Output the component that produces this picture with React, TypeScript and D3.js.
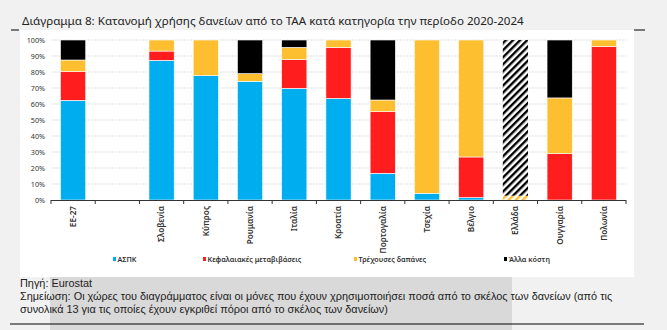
import { useMemo } from 'react';
import * as d3 from 'd3';

const categories = ['ΕΕ-27', ' ', 'Σλοβενία', 'Κύπρος', 'Ρουμανία', 'Ιταλία', 'Κροατία', 'Πορτογαλία', 'Τσεχία', 'Βέλγιο', 'Ελλάδα', 'Ουγγαρία', 'Πολωνία'];
const seriesNames = ['ΑΣΠΚ', 'Κεφαλαιακές μεταβιβάσεις', 'Τρέχουσες δαπάνες', 'Άλλα κόστη'];
const aspk = [62.3, 0, 87.3, 77.7, 74.2, 69.8, 63.5, 16.7, 4.2, 1.5, 0, 0, 0];
const capital = [17.9, 0, 5.8, 0, 0, 18.1, 31.9, 38.5, 0, 25.4, 0, 29, 96];
const current = [7.3, 0, 6.9, 22.3, 4.8, 7.5, 4.6, 7.3, 95.8, 73.1, 2.7, 34.8, 4];
const other = [12.5, 0, 0, 0, 21, 4.6, 0, 37.5, 0, 0, 97.3, 36.2, 0];
const hatched = ['Ελλάδα'];
const yTicks = [0, 10, 20, 30, 40, 50, 60, 70, 80, 90, 100];

const colors = ['#00aeef', '#ff1d1d', '#fdbe30', '#000000'];
const font = '"Noto Sans", "Open Sans", sans-serif';
const noteFont = '"Liberation Sans", Arial, sans-serif';

export default function App() {
  const W = 667;
  const H = 330;
  const x = d3.scaleBand<string>().domain(categories).range([51, 626]).paddingInner(0.43).paddingOuter(0.215);
  const y = d3.scaleLinear().domain([0, 100]).range([200, 40]);

  const rows = useMemo(
    () => categories.map((c, i) => ({ cat: c, s0: aspk[i], s1: capital[i], s2: current[i], s3: other[i] })),
    []
  );
  const stacked = d3.stack<any>().keys(['s0', 's1', 's2', 's3'])(rows);
  const step = x.step();
  const legendX = [113, 203, 354, 504];

  return (
    <div style={{ position: 'fixed', left: 0, top: 0 }}>
      <svg width={W} height={H} style={{ display: 'block', fontFamily: font }}>
        <defs>
          <pattern id="hatchK" width="5" height="5" patternUnits="userSpaceOnUse" patternTransform="rotate(45)">
            <rect width="5" height="5" fill="#fff" />
            <rect width="2.4" height="5" fill="#000" />
          </pattern>
          <pattern id="hatchY" width="5" height="5" patternUnits="userSpaceOnUse" patternTransform="rotate(45)">
            <rect width="5" height="5" fill="#fff" />
            <rect width="2.4" height="5" fill="#fdbe30" />
          </pattern>
        </defs>
        <rect width={W} height={H} fill="#f1f1f1" />
        <rect x={20} y={30} width={614} height={247} fill="#fff" />
        <rect x={50} y={277} width={462} height={53} fill="#d9d9d9" />

        <text x={22} y={25} fontSize={11.6} fill="#222">
          Διάγραμμα 8: Κατανομή χρήσης δανείων από το ΤΑΑ κατά κατηγορία την περίοδο 2020-2024
        </text>
        <line x1={11} x2={19} y1={30} y2={30} stroke="#000" strokeWidth={1} />
        <line x1={634} x2={645} y1={30} y2={30} stroke="#000" strokeWidth={1} />

        {yTicks.map(t => (
          <g key={t}>
            {t > 0 && (
              <line x1={52} x2={626} y1={y(t)} y2={y(t)} stroke="#d4d4d4" strokeWidth={0.8} strokeDasharray="2,1" />
            )}
            <text x={45} y={y(t)} dy="0.35em" textAnchor="end" fontSize={7.2} fill="#333">
              {t}%
            </text>
          </g>
        ))}

        {stacked.map((layer, k) =>
          layer.map((d, i) => {
            const cat = categories[i];
            const h = y(d[0]) - y(d[1]);
            if (h <= 0) return null;
            const isHatch = hatched.includes(cat);
            const fill = isHatch ? (k === 3 ? 'url(#hatchK)' : 'url(#hatchY)') : colors[k];
            return (
              <rect
                key={`${k}-${i}`}
                x={x(cat)}
                y={y(d[1])}
                width={x.bandwidth()}
                height={h}
                fill={fill}
                stroke={isHatch ? 'none' : '#fff'}
                strokeWidth={0.6}
              />
            );
          })
        )}

        <line x1={51} x2={626} y1={y(0) + 0.5} y2={y(0) + 0.5} stroke="#333" strokeWidth={1.2} />
        {categories.map((c, i) => {
          const bx = (x(c) as number) - (step - x.bandwidth()) / 2;
          return <line key={`t${i}`} x1={bx} x2={bx} y1={y(0)} y2={y(0) + 4} stroke="#333" strokeWidth={1} />;
        })}
        <line x1={626} x2={626} y1={y(0)} y2={y(0) + 4} stroke="#333" strokeWidth={1} />

        {categories.map((c, i) => {
          const cx = (x(c) as number) + x.bandwidth() / 2;
          return (
            <text
              key={`l${i}`}
              transform={`translate(${cx},206) rotate(-90)`}
              textAnchor="end"
              dy="0.35em"
              fontSize={8.2}
              fontWeight={600}
              fill="#333"
            >
              {c.trim()}
            </text>
          );
        })}

        {seriesNames.map((s, k) => (
          <g key={s} transform={`translate(${legendX[k]},259)`}>
            <rect x={0} y={-2} width={3} height={4} fill={colors[k]} />
            <text x={4.5} dy="0.35em" fontSize={7.2} fontWeight={600} fill="#333">
              {s}
            </text>
          </g>
        ))}

        <g fontFamily={noteFont} fontSize={10.9} fill="#222">
          <text x={20} y={287}>Πηγή: Eurostat</text>
          <text x={20} y={300}>
            Σημείωση: Οι χώρες του διαγράμματος είναι οι μόνες που έχουν χρησιμοποιήσει ποσά από το σκέλος των δανείων (από τις
          </text>
          <text x={20} y={312.5}>
            συνολικά 13 για τις οποίες έχουν εγκριθεί πόροι από το σκέλος των δανείων)
          </text>
        </g>
        <line x1={10} x2={644} y1={324} y2={324} stroke="#000" strokeWidth={1} />
      </svg>
    </div>
  );
}
